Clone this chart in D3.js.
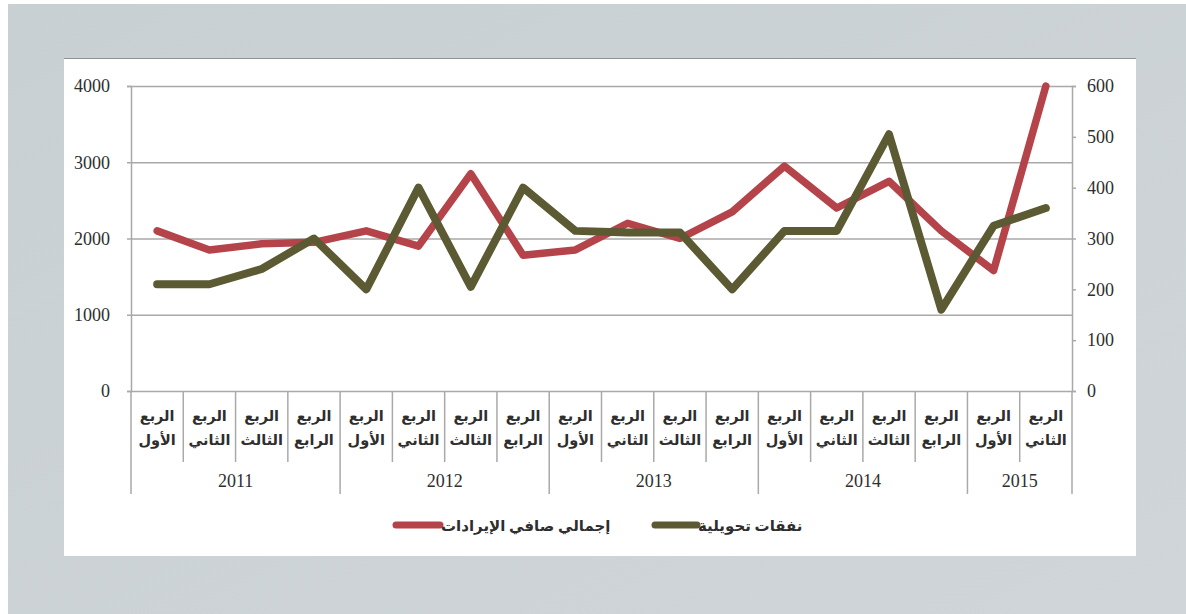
<!DOCTYPE html>
<html>
<head>
<meta charset="utf-8">
<script src="https://cdn.jsdelivr.net/npm/d3@7/dist/d3.min.js"></script>
<style>
  html, body { margin: 0; padding: 0; background: #ffffff; }
  svg { display: block; }
</style>
</head>
<body>
<svg id="chart" width="1186" height="614"></svg>
<script>
// Quarterly series, 2011 Q1 – 2015 Q2
const quarterWord = "الربع";
const quarterNames = ["الأول", "الثاني", "الثالث", "الرابع",
                      "الأول", "الثاني", "الثالث", "الرابع",
                      "الأول", "الثاني", "الثالث", "الرابع",
                      "الأول", "الثاني", "الثالث", "الرابع",
                      "الأول", "الثاني"];
const years = ["2011", "2012", "2013", "2014", "2015"];
const quartersPerYear = [4, 4, 4, 4, 2];

// Net revenue total (left axis)
const revenue = [2100, 1850, 1930, 1950, 2100, 1900, 2850, 1780, 1850, 2200,
                 2000, 2350, 2950, 2400, 2750, 2100, 1580, 4000];
// Transfer expenditure (right axis)
const transfers = [210, 210, 240, 300, 200, 400, 205, 400, 315, 312,
                   312, 200, 315, 315, 505, 160, 325, 360];

const leftTicks = [0, 1000, 2000, 3000, 4000];
const rightTicks = [0, 100, 200, 300, 400, 500, 600];
const seriesNames = ["إجمالي صافي الإيرادات", "نفقات تحويلية"];

const svg = d3.select("#chart");
const W = 1186, H = 614;

const font = "'Liberation Serif', 'DejaVu Sans', serif";
const textColor = "#2e2e2e";
const gridColor = "#a9a9a9";
const redColor = "#b5434a";
const oliveColor = "#5b5a33";

// Backdrop and white panel
const defs = svg.append("defs");
const bg = defs.append("linearGradient").attr("id", "bg").attr("x1", 0).attr("x2", 1).attr("y1", 0).attr("y2", 1);
bg.append("stop").attr("offset", "0%").attr("stop-color", "#c9d0d3");
bg.append("stop").attr("offset", "100%").attr("stop-color", "#cfd5d8");
svg.append("rect").attr("width", W).attr("height", H).attr("fill", "#ffffff");
svg.append("rect").attr("x", 8).attr("y", 4).attr("width", W - 8).attr("height", H - 4).attr("fill", "url(#bg)");
svg.append("rect").attr("x", 64).attr("y", 58).attr("width", 1072).attr("height", 498).attr("fill", "#ffffff");
svg.append("line").attr("x1", 64).attr("x2", 1136).attr("y1", 58.5).attr("y2", 58.5)
  .attr("stroke", "#8f9396").attr("stroke-width", 1.2);

const plotL = 131, plotR = 1072, plotT = 86, plotB = 391;

const x = d3.scaleBand().domain(d3.range(quarterNames.length)).range([plotL, plotR]);
const yL = d3.scaleLinear().domain([0, 4000]).range([plotB, plotT]);
const yR = d3.scaleLinear().domain([0, 600]).range([plotB, plotT]);

// Horizontal gridlines
svg.append("g")
  .attr("transform", `translate(${plotL},0)`)
  .call(d3.axisLeft(yL).tickValues(leftTicks).tickSize(-(plotR - plotL)).tickFormat(""))
  .call(g => g.select(".domain").remove())
  .call(g => g.selectAll("line").attr("stroke", gridColor).attr("stroke-width", 1.5));

// Left axis
svg.append("g")
  .attr("transform", `translate(${plotL},0)`)
  .call(d3.axisLeft(yL).tickValues(leftTicks).tickSize(4).tickPadding(17).tickFormat(d3.format("d")))
  .call(g => g.select(".domain").attr("stroke", gridColor).attr("stroke-width", 1.5))
  .call(g => g.selectAll("line").attr("stroke", gridColor).attr("stroke-width", 1.5))
  .call(g => g.selectAll("text").attr("font-family", font).attr("font-size", 18).attr("fill", textColor));

// Right axis
svg.append("g")
  .attr("transform", `translate(${plotR},0)`)
  .call(d3.axisRight(yR).tickValues(rightTicks).tickSize(4).tickPadding(11).tickFormat(d3.format("d")))
  .call(g => g.select(".domain").attr("stroke", gridColor).attr("stroke-width", 1.5))
  .call(g => g.selectAll("line").attr("stroke", gridColor).attr("stroke-width", 1.5))
  .call(g => g.selectAll("text").attr("font-family", font).attr("font-size", 18).attr("fill", textColor));

// Category separators: short between quarters, long between years
const yearStarts = [];
let acc = 0;
quartersPerYear.forEach(n => { yearStarts.push(acc); acc += n; });
const sepG = svg.append("g");
d3.range(quarterNames.length + 1).forEach(i => {
  const xp = i < quarterNames.length ? x(i) : plotR;
  const isYear = i === quarterNames.length || yearStarts.includes(i);
  sepG.append("line")
    .attr("x1", xp).attr("x2", xp)
    .attr("y1", plotB).attr("y2", isYear ? 494 : 462)
    .attr("stroke", gridColor).attr("stroke-width", 1.5);
});

// Quarter labels (two lines)
const qG = svg.append("g").attr("font-family", font).attr("font-size", 14.5)
  .attr("fill", textColor).attr("text-anchor", "middle").attr("font-weight", "bold");
quarterNames.forEach((q, i) => {
  const cx = x(i) + x.bandwidth() / 2;
  qG.append("text").attr("x", cx).attr("y", 421).attr("direction", "rtl").text(quarterWord);
  qG.append("text").attr("x", cx).attr("y", 445).attr("direction", "rtl").text(q);
});

// Year labels
const yG = svg.append("g").attr("font-family", font).attr("font-size", 18)
  .attr("fill", textColor).attr("text-anchor", "middle");
years.forEach((yr, j) => {
  const s = yearStarts[j], e = s + quartersPerYear[j] - 1;
  const cx = (x(s) + x(e) + x.bandwidth()) / 2;
  yG.append("text").attr("x", cx).attr("y", 487).text(yr);
});

// Series lines
const lineRev = d3.line().x((d, i) => x(i) + x.bandwidth() / 2).y(d => yL(d));
const lineTr = d3.line().x((d, i) => x(i) + x.bandwidth() / 2).y(d => yR(d));

svg.append("path").datum(revenue).attr("d", lineRev)
  .attr("fill", "none").attr("stroke", redColor).attr("stroke-width", 7.5)
  .attr("stroke-linejoin", "round").attr("stroke-linecap", "round");
svg.append("path").datum(transfers).attr("d", lineTr)
  .attr("fill", "none").attr("stroke", oliveColor).attr("stroke-width", 8)
  .attr("stroke-linejoin", "round").attr("stroke-linecap", "round");

// Legend
const legend = [
  { name: seriesNames[0], color: redColor, x0: 396, x1: 440 },
  { name: seriesNames[1], color: oliveColor, x0: 655, x1: 697 }
];
const lg = svg.append("g");
legend.forEach(d => {
  lg.append("line").attr("x1", d.x0).attr("x2", d.x1).attr("y1", 525).attr("y2", 525)
    .attr("stroke", d.color).attr("stroke-width", 7).attr("stroke-linecap", "round");
  lg.append("text").attr("x", d.x1 + 1).attr("y", 531)
    .attr("font-family", font).attr("font-size", 15).attr("font-weight", "bold")
    .attr("fill", textColor).attr("text-anchor", "end").attr("direction", "rtl")
    .text(d.name);
});
</script>
</body>
</html>
